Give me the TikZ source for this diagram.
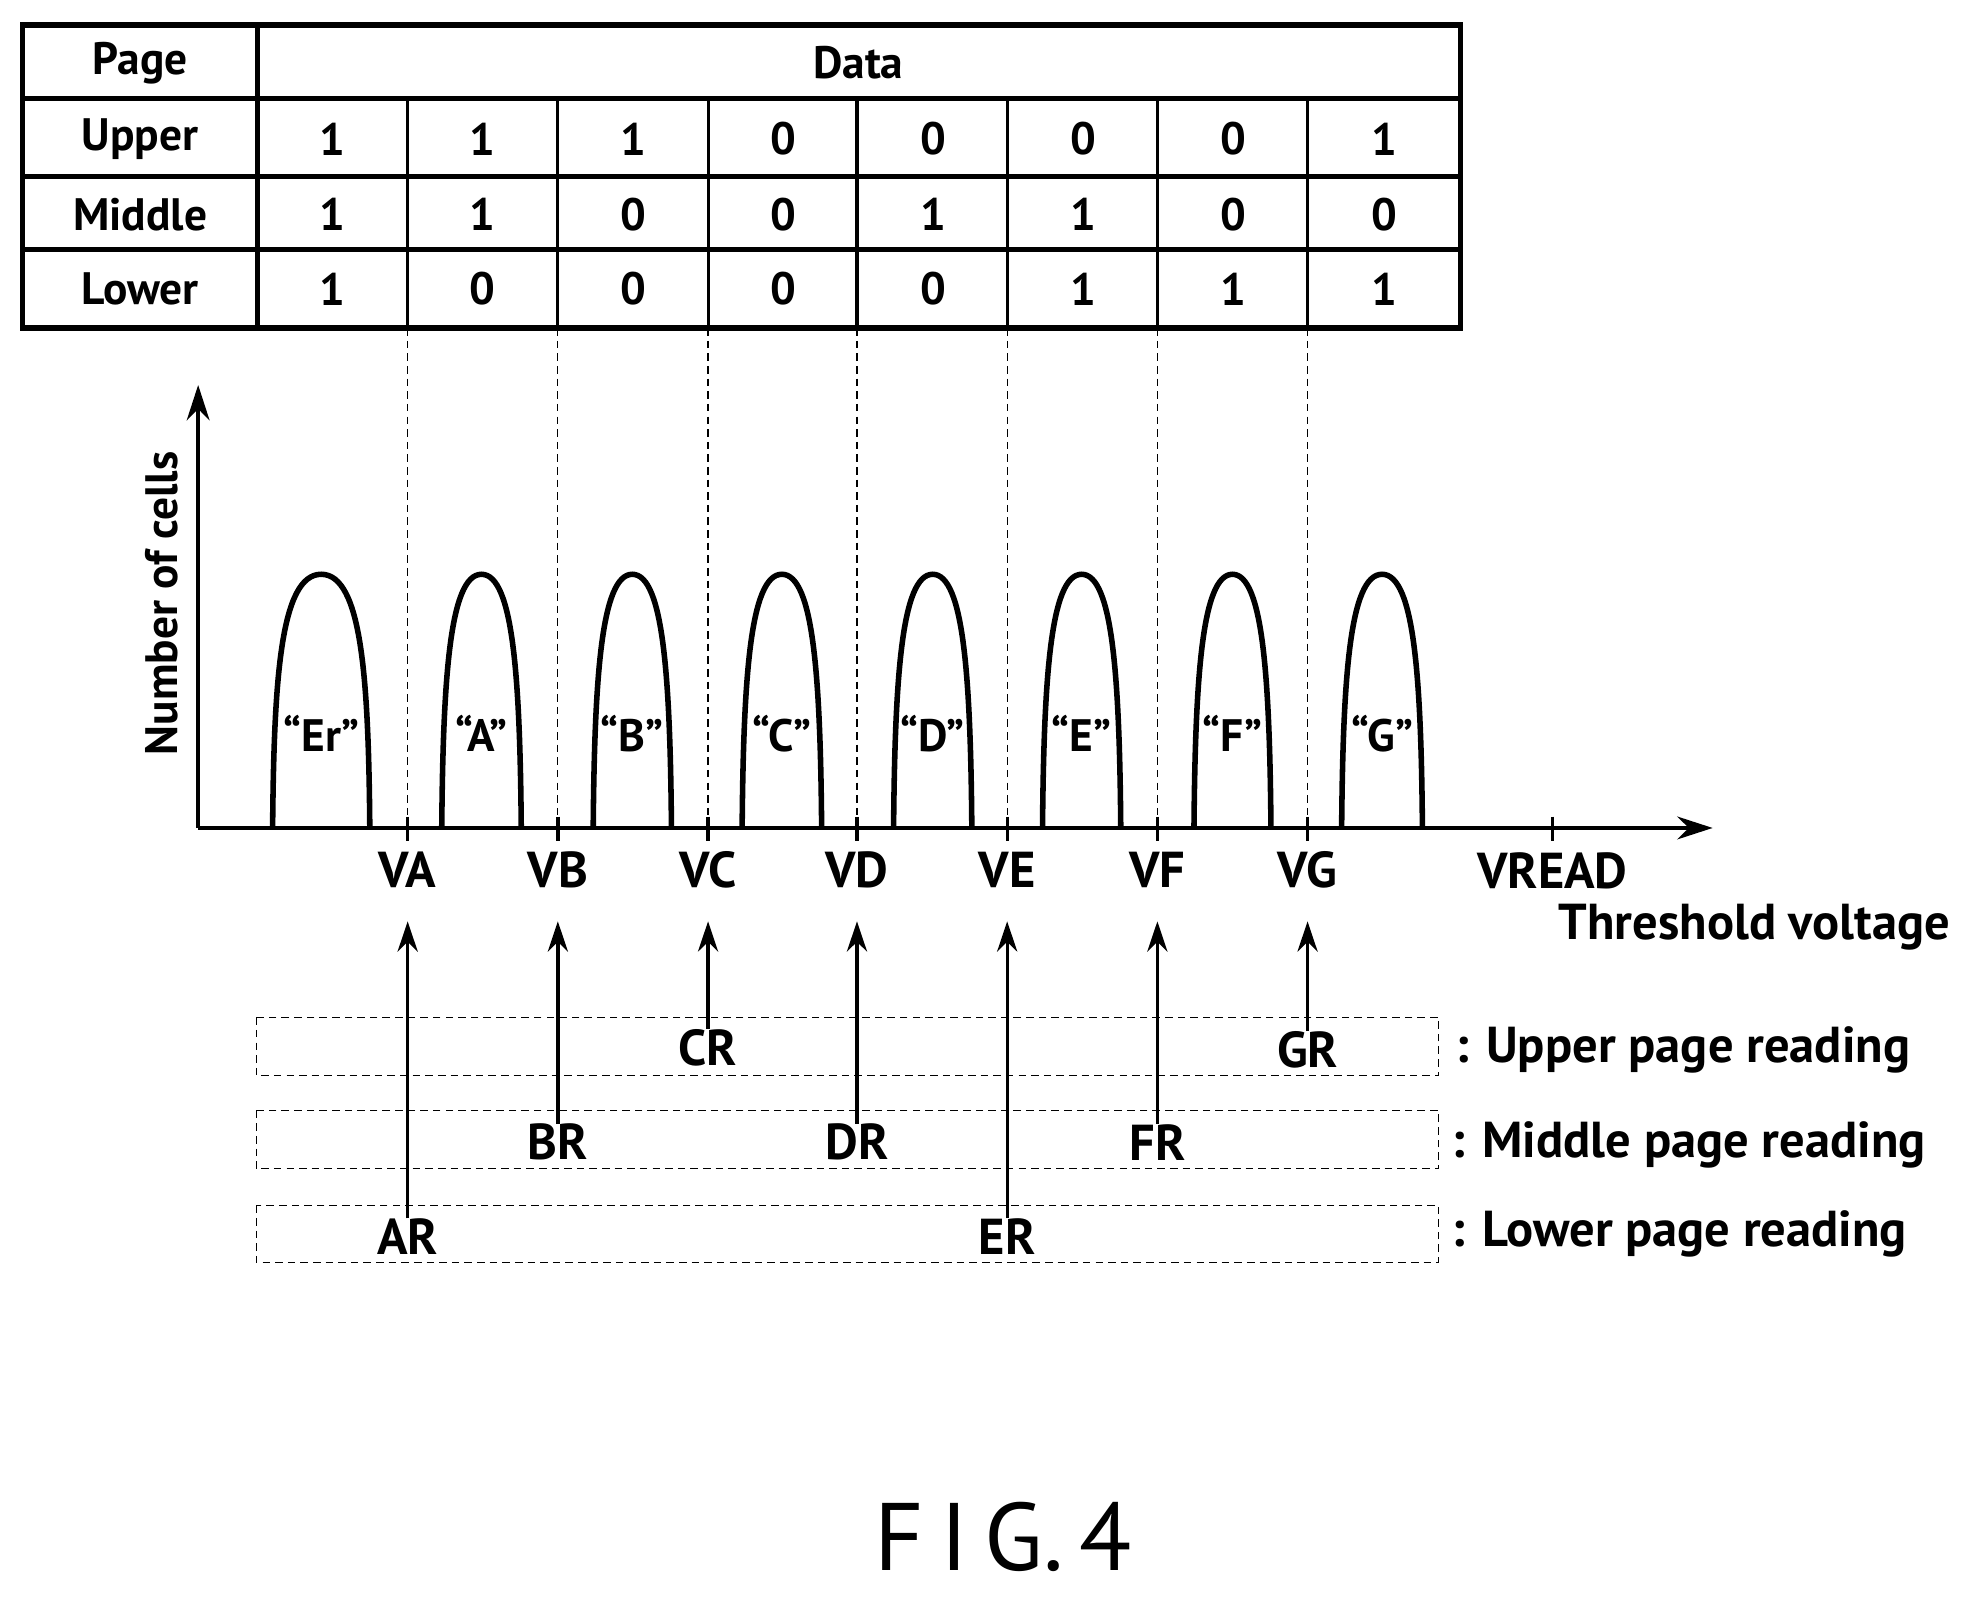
\documentclass[tikz,border=0pt]{standalone}
\usepackage{fontspec}
\setmainfont{PT Sans}
\usetikzlibrary{arrows.meta}
\begin{document}
\begin{tikzpicture}[x=0.5pt,y=-0.5pt,
  txt/.style={font=\fontsize{18}{20}\selectfont\bfseries,inner sep=0pt},
  big/.style={font=\fontsize{20}{22}\selectfont\bfseries,inner sep=0pt},
  dsh/.style={dashed,line width=0.5pt,dash pattern=on 3pt off 2pt},
  curve/.style={line width=2.2pt},
  arr/.style={line width=1.3pt,-{Stealth[length=12pt,width=8pt]}}]
\useasboundingbox (0,0) rectangle (1568,1265);
% table
\draw[line width=2.2pt] (18,20) rectangle (1157,260);
\draw[line width=2.2pt] (204,20) -- (204,260);
\foreach \y in {78,140,198} \draw[line width=2pt] (18,\y) -- (1157,\y);
\foreach \x in {323,442,561,679,798,917,1036} \draw[line width=1.2pt] (\x,78) -- (\x,260);
\node[txt] (pg) at (111,50) {Page};
\node[txt] (data) at (680,50) {Data};
\node[txt] (up) at (111,110) {Upper};
\node[txt] (mid) at (111,170) {Middle};
\node[txt] (low) at (111,229) {Lower};
\foreach \u/\m/\l [count=\i from 0] in {1/1/1,1/1/0,1/0/0,0/0/0,0/1/0,0/1/1,0/0/1,1/0/1}{
  \pgfmathsetmacro\cx{263.5+119*\i}
  \node[txt] (u\i) at (\cx,110) {\u};
  \node[txt] (m\i) at (\cx,170) {\m};
  \node[txt] (l\i) at (\cx,229) {\l};
}
% axes
\coordinate (O) at (157,656);
\coordinate (Ytop) at (157,305);
\coordinate (Xend) at (1357,656);
\draw[line width=1.8pt,-{Stealth[length=14pt,width=9pt]}] (O) -- (Ytop);
\draw[line width=1.8pt,-{Stealth[length=14pt,width=9pt]}] (O) -- (Xend);
\node[txt,rotate=90] (ny) at (128,478) {Number of cells};
\node[big] (tv) at (1390,735) {Threshold voltage};
% dashed verticals and ticks
\foreach \x/\n in {323/VA,442/VB,561/VC,679/VD,798/VE,917/VF,1036/VG}{
  \draw[dsh] (\x,260) -- (\x,656);
  \draw[line width=1.3pt] (\x,647) -- (\x,666);
  \node[big] (\n) at (\x,689) {\n};
}
\draw[line width=1.3pt] (1230,647) -- (1230,666);
\node[big] (VREAD) at (1230,690) {VREAD};
% distributions
\foreach \a/\b/\lab [count=\i] in {216/293/Er,350/413/A,470/532/B,588/651/C,708/770/D,826/888/E,946/1007/F,1063/1127/G}{
  \pgfmathsetmacro\c{(\a+\b)/2}
  \draw[curve] (\a,656) .. controls (\a+1,540) and (\a+6,455) .. (\c,455)
     .. controls (\b-6,455) and (\b-1,540) .. (\b,656);
  \node[txt] (d\i) at (\c,581) {“\lab”};
}
% dashed boxes
\draw[dsh] (203,806) rectangle (1140,852);
\draw[dsh] (203,880) rectangle (1140,926);
\draw[dsh] (203,955) rectangle (1140,1000);
\node[big,anchor=west] (ur) at (1153,832) {: Upper page reading};
\node[big,anchor=west] (mr) at (1150,907) {: Middle page reading};
\node[big,anchor=west] (lr) at (1150,978) {: Lower page reading};
% read labels and arrows
\node[big] (CR) at (561,830) {CR};
\node[big] (GR) at (1036,832) {GR};
\node[big] (BR) at (442,905) {BR};
\node[big] (DR) at (679,905) {DR};
\node[big] (FR) at (917,905) {FR};
\node[big] (AR) at (323,980) {AR};
\node[big] (ER) at (798,980) {ER};
\foreach \n/\x in {CR/561,GR/1036,BR/442,DR/679,FR/917,AR/323,ER/798}{
  \coordinate (\n t) at (\x,730);
  \draw[arr] (\n.north) -- (\n t);
}
\node[font=\fontsize{38}{40}\selectfont,inner sep=0pt] (fig) at (795,1218) {F\,I\,G.\,4};
\end{tikzpicture}
\end{document}
